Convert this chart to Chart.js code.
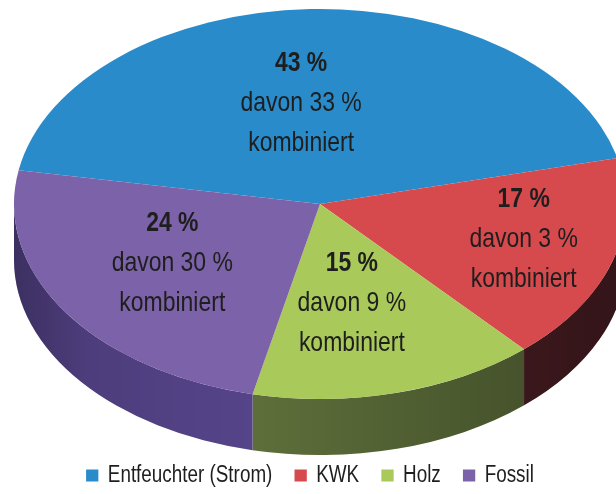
<!DOCTYPE html>
<html>
<head>
<meta charset="utf-8">
<script src="https://cdn.jsdelivr.net/npm/chart.js@4.4.1/dist/chart.umd.min.js"></script>
<style>
  html, body { margin: 0; padding: 0; background: #fff; }
  #wrap { width: 616px; height: 494px; }
</style>
</head>
<body>
<div id="wrap"><canvas id="graficoTorta"></canvas></div>
<script>
// Daten
var categorias = ['Entfeuchter (Strom)', 'KWK', 'Holz', 'Fossil'];
var anteile = [43, 17, 15, 24];      // Anteil in %
var kombiniert = [33, 3, 9, 30];     // davon kombiniert in %

// Farben
var farben = ['#2a8bcb', '#d64a4d', '#a9c95b', '#7c62a8'];
var seitenFarben = ['#1c5f8c', '#4e1f25', '#5d6e3a', '#56448a'];
var labelRadius = [0.52, 0.69, 0.52, 0.57];
var labelWinkel = [-5, -2, 3, 1.5];   // Grad

// Ellipse der Oberseite und Tiefe der Seitenwand (px)
var PIE = { cx: 320, cy: 204, rx: 306, ry: 195, depth: 56 };

function fontDa(name) {
  var c = document.createElement('canvas').getContext('2d');
  var probe = 'davon 33 % kombiniert';
  c.font = '40px monospace';
  var w0 = c.measureText(probe).width;
  c.font = '40px "' + name + '", monospace';
  return Math.abs(c.measureText(probe).width - w0) > 1;
}
var narrow = fontDa('Liberation Sans Narrow');
var FONT = narrow ? '"Liberation Sans Narrow", "Arial Narrow", sans-serif' : '"Liberation Sans", Arial, sans-serif';
var SQUEEZE = narrow ? 1 : 0.82;

function ellipseTransform(ctx, arc) {
  var R = arc.outerRadius;
  ctx.translate(PIE.cx, PIE.cy);
  ctx.scale(PIE.rx / R, PIE.ry / R);
  ctx.translate(-arc.x, -arc.y);
}

var pie3d = {
  id: 'pie3d',
  afterInit: function(chart) {
    // Legende schmal zeichnen (Arial Narrow Ersatz)
    var legend = chart.legend;
    var drawOrig = legend.draw;
    legend.draw = function() {
      var ctx = chart.ctx;
      var mx = (legend.left + legend.right) / 2;
      ctx.save();
      ctx.translate(mx, 0);
      ctx.scale(SQUEEZE, 1);
      ctx.translate(-mx, 0);
      drawOrig.apply(legend, arguments);
      ctx.restore();
    };
  },
  beforeDatasetsDraw: function(chart) {
    var ctx = chart.ctx;
    var arcs = chart.getDatasetMeta(0).data;
    var a0 = arcs[0];
    var R = a0.outerRadius, x = a0.x, y = a0.y;
    var d = PIE.depth * R / PIE.ry;
    ctx.save();
    ellipseTransform(ctx, a0);
    // Seitenwand (nur vordere Hälfte sichtbar)
    arcs.forEach(function(arc, i) {
      var s = arc.startAngle, e = arc.endAngle;
      for (var k = -1; k <= 2; k++) {
        var lo = Math.max(s, 2 * Math.PI * k), hi = Math.min(e, 2 * Math.PI * k + Math.PI);
        if (hi <= lo) continue;
        ctx.beginPath();
        ctx.arc(x, y, R, lo, hi);
        ctx.lineTo(x + R * Math.cos(hi), y + R * Math.sin(hi) + d);
        ctx.arc(x, y + d, R, hi, lo, true);
        ctx.closePath();
        ctx.fillStyle = seitenFarben[i];
        ctx.fill();
        var g = ctx.createLinearGradient(x - R, 0, x + R, 0);
        g.addColorStop(0, 'rgba(0,0,0,0.3)');
        g.addColorStop(0.12, 'rgba(0,0,0,0.1)');
        g.addColorStop(0.4, 'rgba(0,0,0,0)');
        g.addColorStop(0.75, 'rgba(0,0,0,0.2)');
        g.addColorStop(1, 'rgba(0,0,0,0.35)');
        ctx.fillStyle = g;
        ctx.fill();
      }
    });
  },
  afterDatasetsDraw: function(chart) {
    var ctx = chart.ctx;
    ctx.restore();
    var arcs = chart.getDatasetMeta(0).data;
    arcs.forEach(function(arc, i) {
      var mid = (arc.startAngle + arc.endAngle) / 2 + labelWinkel[i] * Math.PI / 180;
      var f = labelRadius[i];
      var lx = PIE.cx + Math.cos(mid) * f * PIE.rx;
      var ly = PIE.cy + Math.sin(mid) * f * PIE.ry;
      var lines = [anteile[i] + ' %', 'davon ' + kombiniert[i] + ' %', 'kombiniert'];
      lines.forEach(function(t, j) {
        ctx.save();
        ctx.translate(lx, ly + (j - 1) * 40);
        ctx.scale(SQUEEZE, 1);
        ctx.font = (j === 0 ? 'bold ' : '') + '28px ' + FONT;
        ctx.fillStyle = '#1e1e1e';
        ctx.textAlign = 'center';
        ctx.textBaseline = 'middle';
        ctx.fillText(t, 0, 0);
        ctx.restore();
      });
    });
  }
};

var ctxTorta = document.getElementById('graficoTorta').getContext('2d');
var graficoTorta = new Chart(ctxTorta, {
  type: 'pie',
  data: {
    labels: categorias,
    datasets: [{
      data: anteile,
      backgroundColor: farben,
      borderWidth: 0
    }]
  },
  options: {
    responsive: true,
    maintainAspectRatio: false,
    animation: false,
    rotation: 280,
    layout: { padding: { left: 4, right: 0, top: 9, bottom: -3 } },
    plugins: {
      legend: {
        position: 'bottom',
        labels: {
          boxWidth: narrow ? 12 : 15,
          boxHeight: 12,
          padding: narrow ? 22 : 27,
          color: '#1e1e1e',
          font: { family: FONT, size: 23 }
        }
      },
      tooltip: { enabled: false }
    }
  },
  plugins: [pie3d]
});
</script>
</body>
</html>
